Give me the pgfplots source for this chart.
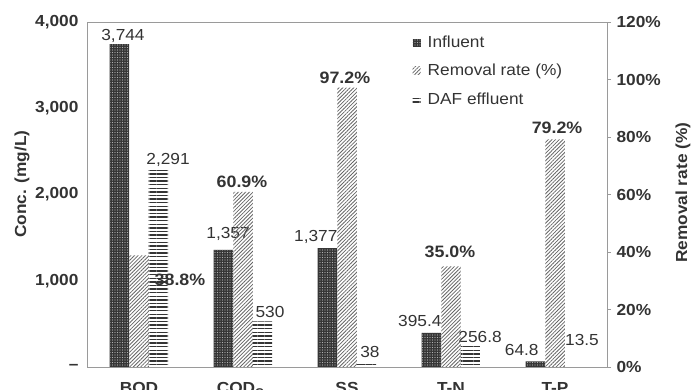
\documentclass[border=0pt]{standalone}
\usepackage{fontspec}
\setmainfont[FakeStretch=1.08]{Liberation Sans}
\usepackage{pgfplots}
\pgfplotsset{compat=1.18}
\usetikzlibrary{patterns.meta}
\definecolor{txt}{HTML}{333333}
\definecolor{frame}{HTML}{9A9A9A}
\definecolor{inf}{HTML}{353535}
\tikzset{
 infl/.style={fill=inf, draw=none, postaction={pattern={Dots[distance=2.5pt,radius=0.55pt]}, pattern color=gray!60}},
 remo/.style={draw=none, pattern={Lines[angle=45,distance=2.6pt,line width=0.8pt]}, pattern color=gray!80!black},
 effl/.style={fill=white, draw=none, postaction={pattern={Lines[angle=0,distance=3.6pt,line width=1.4pt]}, pattern color=inf}},
 lab/.style={font=\fontsize{16}{16}\selectfont, text=txt, inner sep=0pt},
 pct/.style={font=\fontsize{16.5}{16.5}\selectfont\bfseries, text=txt, inner sep=0pt},
}
\begin{document}
\begin{tikzpicture}[x=1pt,y=1pt]
\useasboundingbox (0,0) rectangle (697,390);
\clip (0,0) rectangle (697,390);
\begin{axis}[at={(87pt,23pt)}, anchor=south west, scale only axis,
 width=520pt, height=345pt,
 xmin=-0.5, xmax=4.5, ymin=0, ymax=4000,
 ybar, bar width=19.5pt,
 axis line style={frame, line width=0.9pt},
 xtick={0,...,4}, xticklabels={BOD,COD\textsubscript{Cr},SS,T-N,T-P},
 ytick={0,1000,2000,3000,4000}, yticklabels={--,{1,000},{2,000},{3,000},{4,000}},
 major tick length=0pt, xtick pos=bottom, ytick pos=left,
 tick label style={font=\fontsize{16}{16}\selectfont\bfseries, text=txt},
 yticklabel style={xshift=-5pt},
 xticklabel style={yshift=-12pt},
 ylabel={Conc. (mg/L)},
 ylabel style={font=\fontsize{16}{16}\selectfont\bfseries, text=txt, at={(axis description cs:-0.125,0.53)}, anchor=center},
 legend style={at={(axis description cs:0.626,0.965)}, anchor=north west, draw=none, fill=none,
   font=\fontsize{16}{16}\selectfont, text=txt, row sep=11pt, column sep=5pt, inner sep=0pt},
 legend cell align=left,
 legend image code/.code={\path[#1] (0pt,-4pt) rectangle (8pt,4pt);},
]
\addplot[infl, bar shift=-19.5pt] coordinates {(0,3744) (1,1357) (2,1377) (3,395.4) (4,64.8)};
\addlegendentry{Influent}
\addlegendimage{remo}
\addlegendentry{Removal rate (\%)}
\addplot[effl, bar shift=19.5pt] coordinates {(0,2291) (1,530) (2,38) (3,256.8) (4,13.5)};
\addlegendentry{DAF effluent}
\node[lab] at (axis cs:-0.154,3838) {3,744};
\node[lab] at (axis cs:0.279,2400) {2,291};
\node[pct] at (axis cs:0.394,1009) {38.8\%};
\node[pct] at (axis cs:0.99,2145) {60.9\%};
\node[lab] at (axis cs:0.856,1542) {1,357};
\node[lab] at (axis cs:1.26,638) {530};
\node[pct] at (axis cs:1.98,3351) {97.2\%};
\node[lab] at (axis cs:1.70,1507) {1,377};
\node[lab] at (axis cs:2.22,174) {38};
\node[pct] at (axis cs:2.99,1333) {35.0\%};
\node[lab] at (axis cs:2.70,533) {395.4};
\node[lab] at (axis cs:3.28,348) {256.8};
\node[lab] at (axis cs:3.68,197) {64.8};
\node[pct] at (axis cs:4.02,2771) {79.2\%};
\node[lab] at (axis cs:4.26,313) {13.5};
\end{axis}
\begin{axis}[at={(87pt,23pt)}, anchor=south west, scale only axis,
 width=520pt, height=345pt,
 xmin=-0.5, xmax=4.5, ymin=0, ymax=120,
 ybar, bar width=19.5pt,
 axis x line=none, axis y line*=right,
 axis line style={frame, line width=0.9pt},
 ytick={0,20,40,60,80,100,120}, yticklabels={0\%,20\%,40\%,60\%,80\%,100\%,120\%},
 tick align=outside, major tick length=4pt, tick style={frame, line width=0.8pt},
 tick label style={font=\fontsize{16}{16}\selectfont\bfseries, text=txt},
 yticklabel style={xshift=2pt},
 ylabel={Removal rate (\%)},
 ylabel style={font=\fontsize{16}{16}\selectfont\bfseries, text=txt, at={(axis description cs:1.146,0.505)}, anchor=center},
]
\addplot[remo, bar shift=0pt] coordinates {(0,38.8) (1,60.9) (2,97.2) (3,35.0) (4,79.2)};
\end{axis}
\end{tikzpicture}
\end{document}
